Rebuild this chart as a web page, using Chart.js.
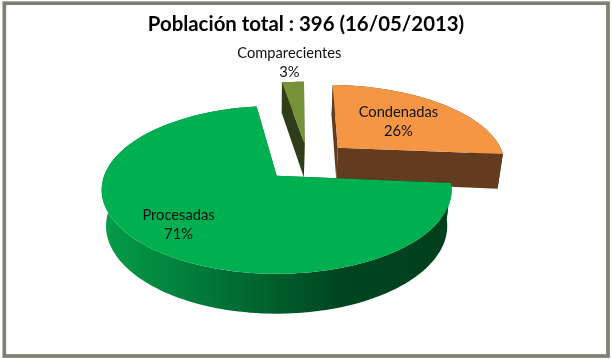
<!DOCTYPE html>
<html>
<head>
<meta charset="utf-8">
<script src="https://cdn.jsdelivr.net/npm/chart.js@4"></script>
<style>
	html, body { margin: 0; padding: 0; background: #fff; }
	#wrap { width: 612px; height: 359px; }
</style>
</head>
<body>
<div id="wrap"><canvas id="chart01"></canvas></div>
<script>
const titleText = "Población total : 396 (16/05/2013)";
const categories = ["Condenadas", "Procesadas", "Comparecientes"];
const counts = [103, 283, 10];
const explode = [25.5, 27, 23];
const topColors = ["#f59644", "#00af50", "#779339"];
const wallColors = ["#633b1e", null, "#2f3d18"];
const labelDistance = [0.56, 0.75, 1.38];

// the pie is a tilted disc seen in perspective, all numbers fitted on the picture
const view = { cx: 277, cy: 176, sx: 172.6, sy: 81.7, persp: 0.167, depthY: 36.7, depthW: 0.025, originU: 0.184, originV: -0.198 };

function project(p, low) {
	const u = p[0] + view.originU;
	const v = p[1] + view.originV;
	const w = 1 - view.persp * v + (low ? view.depthW : 0);
	return {
		x: view.cx + (view.sx * u) / w,
		y: view.cy + (view.sy * v + (low ? view.depthY : 0)) / w,
	};
}

function outline(arc) {
	const mid = (arc.startAngle + arc.endAngle) / 2;
	const off = arc.options.offset / 100;
	const apex = [Math.cos(mid) * off, Math.sin(mid) * off];
	const rim = [];
	const steps = Math.ceil((arc.endAngle - arc.startAngle) / 0.03);
	for (let i = 0; i <= steps; i++) {
		const t = arc.startAngle + ((arc.endAngle - arc.startAngle) * i) / steps;
		rim.push([apex[0] + Math.cos(t), apex[1] + Math.sin(t)]);
	}
	return { apex, rim };
}

function fillPoly(ctx, pts, color) {
	ctx.beginPath();
	pts.forEach((p, i) => (i ? ctx.lineTo(p.x, p.y) : ctx.moveTo(p.x, p.y)));
	ctx.closePath();
	ctx.fillStyle = color;
	ctx.fill();
}

const pie3d = {
	id: "pie3d",
	beforeDraw(chart) {
		const ctx = chart.ctx;
		ctx.save();
		ctx.strokeStyle = "#7f8070";
		ctx.lineWidth = 3.7;
		ctx.strokeRect(4.3, 3.2, 603.7, 352.8);
		ctx.restore();
	},
	beforeDatasetDraw(chart, args) {
		const ctx = chart.ctx;
		const arcs = args.meta.data;
		const total = counts.reduce((a, b) => a + b, 0);
		const green = ctx.createLinearGradient(105, 0, 450, 0);
		green.addColorStop(0, "#049c49");
		green.addColorStop(0.4, "#006a32");
		green.addColorStop(0.68, "#00451f");
		green.addColorStop(1, "#003f1d");

		// back to front, the largest slice sits in front of the two others
		const order = arcs.map((a, i) => i).sort((a, b) => {
			const vA = Math.sin((arcs[a].startAngle + arcs[a].endAngle) / 2);
			const vB = Math.sin((arcs[b].startAngle + arcs[b].endAngle) / 2);
			return vA - vB;
		});

		order.forEach((i) => {
			const arc = arcs[i];
			const { apex, rim } = outline(arc);
			const wall = wallColors[i] || green;
			const first = rim[0];
			const last = rim[rim.length - 1];
			[first, last].forEach((end) => {
				fillPoly(ctx, [project(apex), project(end), project(end, true), project(apex, true)], wall);
			});
			const band = rim.map((p) => project(p)).concat(rim.slice().reverse().map((p) => project(p, true)));
			fillPoly(ctx, band, wall);
			fillPoly(ctx, [apex].concat(rim).map((p) => project(p)), arc.options.backgroundColor);
		});

		ctx.save();
		ctx.font = "14.7px Lato";
		ctx.fillStyle = "#111";
		ctx.textAlign = "center";
		ctx.textBaseline = "middle";
		arcs.forEach((arc, i) => {
			const mid = (arc.startAngle + arc.endAngle) / 2;
			const off = arc.options.offset / 100;
			const r = off + labelDistance[i];
			const c = project([Math.cos(mid) * r, Math.sin(mid) * r]);
			ctx.fillText(categories[i], c.x, c.y - 9.5);
			ctx.fillText(Math.round((counts[i] / total) * 100) + "%", c.x, c.y + 9.5);
		});
		ctx.restore();
		return false;
	},
};

const data = {
	labels: categories,
	datasets: [
		{
			data: counts,
			backgroundColor: topColors,
			borderWidth: 0,
			offset: explode,
		},
	],
};

const options = {
	responsive: true,
	maintainAspectRatio: false,
	animation: false,
	rotation: 1.3,
	layout: { padding: { top: 6 } },
	plugins: {
		legend: { display: false },
		tooltip: { enabled: false },
		title: {
			display: true,
			text: titleText,
			color: "#000",
			font: { family: "Lato", size: 20.4, weight: "bold" },
			padding: { top: 6, bottom: 4 },
		},
	},
};

new Chart(document.querySelector("#chart01"), {
	type: "pie",
	data,
	options,
	plugins: [pie3d],
});
</script>
</body>
</html>
